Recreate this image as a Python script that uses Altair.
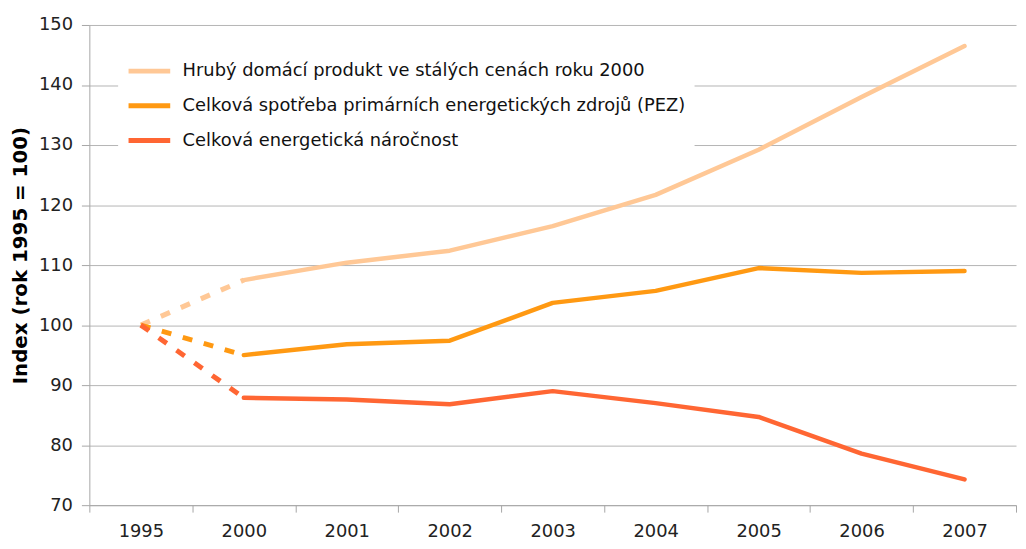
import altair as alt
import pandas as pd

years = ["1995", "2000", "2001", "2002", "2003", "2004", "2005", "2006", "2007"]
series_names = [
    "Hrubý domácí produkt ve stálých cenách roku 2000",
    "Celková spotřeba primárních energetických zdrojů (PEZ)",
    "Celková energetická náročnost",
]
gdp = [100.0, 107.5, 110.4, 112.4, 116.5, 121.7, 129.2, 138.0, 146.5]
pez = [100.0, 95.0, 96.8, 97.4, 103.7, 105.7, 109.5, 108.7, 109.0]
intensity = [100.0, 87.9, 87.6, 86.8, 89.0, 87.0, 84.7, 78.6, 74.3]
colors = ["#FFC896", "#FF9912", "#FF6633"]

rows = []
for name, vals in zip(series_names, [gdp, pez, intensity]):
    for y, v in zip(years, vals):
        rows.append({"rok": y, "hodnota": v, "rada": name})
df = pd.DataFrame(rows)

FONT = "DejaVu Sans"

x_enc = alt.X(
    "rok:O",
    sort=years,
    scale=alt.Scale(type="band", domain=years, paddingInner=0, paddingOuter=0),
    axis=alt.Axis(
        title=None,
        tickBand="extent",
        grid=False,
        labelAngle=0,
        labelFontSize=18,
        labelFont=FONT,
        labelColor="#222222",
        labelPadding=11,
        tickColor="#A6A6A6",
        tickSize=7,
        domainColor="#A6A6A6",
    ),
)
y_enc = alt.Y(
    "hodnota:Q",
    scale=alt.Scale(domain=[70, 150], nice=False, zero=False),
    axis=alt.Axis(
        title="Index (rok 1995 = 100)",
        values=[70, 80, 90, 100, 110, 120, 130, 140, 150],
        labelFontSize=18,
        labelFont=FONT,
        labelColor="#222222",
        labelPadding=9,
        tickColor="#A6A6A6",
        tickSize=8,
        domainColor="#A6A6A6",
        gridColor="#B4B4B4",
        titleFont=FONT,
        titleFontSize=20,
        titleFontWeight="bold",
        titleColor="#000000",
        titleX=-59,
        titleY=232,
    ),
)
color_enc = alt.Color(
    "rada:N",
    scale=alt.Scale(domain=series_names, range=colors),
    sort=series_names,
    legend=alt.Legend(
        title=None,
        orient="none",
        legendX=29,
        legendY=15,
        fillColor="white",
        padding=8,
        symbolType="stroke",
        symbolSize=1764,
        symbolStrokeWidth=5,
        labelFont=FONT,
        labelFontSize=18,
        labelColor="#111111",
        labelOffset=10,
        rowPadding=1,
        labelLimit=800,
    ),
)

base = alt.Chart(df)

dashed = base.transform_filter(
    alt.FieldOneOfPredicate(field="rok", oneOf=["1995", "2000"])
).mark_line(strokeWidth=5, strokeDash=[10, 12], strokeCap="butt").encode(
    x=x_enc, y=y_enc, color=color_enc
)

solid = base.transform_filter(
    alt.FieldOneOfPredicate(field="rok", oneOf=years[1:])
).mark_line(strokeWidth=4.5, strokeCap="round", strokeJoin="round").encode(
    x=x_enc, y=y_enc, color=color_enc
)

chart = (
    alt.layer(dashed, solid)
    .properties(
        width=934,
        height=484,
        autosize=alt.AutoSizeParams(type="none"),
        padding={"left": 82, "top": 15, "right": 2, "bottom": 34},
        background="white",
    )
    .configure_view(stroke=None)
)

chart.save("out.html", embed_options={"renderer": "svg", "actions": False})
